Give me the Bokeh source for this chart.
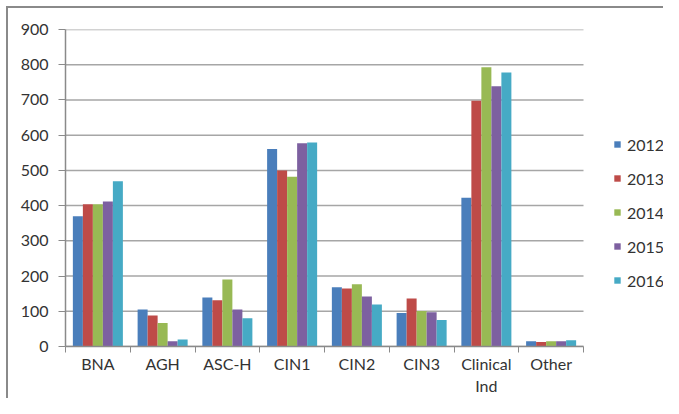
from bokeh.plotting import figure
from bokeh.models import (Range1d, FixedTicker, LinearAxis, Legend, LegendItem,
                          ColumnDataSource)
from bokeh.embed import file_html
from bokeh.resources import INLINE

categories = ["BNA", "AGH", "ASC-H", "CIN1", "CIN2", "CIN3", "Clinical Ind", "Other"]
tick_labels = ["BNA", "AGH", "ASC-H", "CIN1", "CIN2", "CIN3", "Clinical\nInd", "Other"]
years = ["2012", "2013", "2014", "2015", "2016"]
y2012 = [370, 105, 139, 561, 168, 95, 422, 15]
y2013 = [404, 88, 131, 500, 165, 136, 698, 13]
y2014 = [404, 67, 190, 482, 177, 101, 793, 15]
y2015 = [412, 15, 105, 577, 142, 97, 739, 15]
y2016 = [469, 20, 80, 579, 119, 75, 778, 18]
y_ticks = [0, 100, 200, 300, 400, 500, 600, 700, 800, 900]

series = [y2012, y2013, y2014, y2015, y2016]
colors = ["#4a7ebb", "#be4b48", "#98b954", "#7d60a0", "#46aac5"]

FONT = "Lato"
TXT = "#333333"
AX = "#8a8a8a"

n = len(categories)
W, H = 663, 398
LEFT, TOP, BOTTOM = 65, 29, 52
CAT_PX = 64.75  # pixel width of one category slot
x_end = (W - LEFT) / CAT_PX

p = figure(width=W, height=H, output_backend="svg", toolbar_location=None,
           x_range=Range1d(0, x_end), y_range=Range1d(0, 900),
           x_axis_location=None, y_axis_location=None,
           min_border_left=LEFT, min_border_right=0, min_border_top=TOP,
           min_border_bottom=BOTTOM)
p.outline_line_color = None
p.background_fill_color = "white"
p.border_fill_alpha = 0
for g in list(p.grid):
    g.visible = False
p.styles = {
    "background": "linear-gradient(#8a8a8a,#8a8a8a) 6px 6px / 100% 2px no-repeat, "
                  "linear-gradient(#8a8a8a,#8a8a8a) 6px 6px / 2px 100% no-repeat, white",
}

# horizontal gridlines across the category area only
p.segment(x0=[0] * len(y_ticks), x1=[n] * len(y_ticks), y0=y_ticks, y1=y_ticks,
          line_color="#a6a6a6", line_width=1.5)

# y axis
yax = LinearAxis(ticker=FixedTicker(ticks=y_ticks))
yax.axis_line_color = AX
yax.axis_line_width = 1.5
yax.major_tick_line_color = AX
yax.major_tick_out = 7
yax.major_tick_in = 0
yax.minor_tick_line_color = None
yax.major_label_standoff = 10
yax.major_label_text_font = FONT
yax.major_label_text_font_size = "16px"
yax.major_label_text_color = TXT
p.add_layout(yax, "left")

# x axis: labels at category centres, tick marks (minor) at category boundaries
xax = LinearAxis(ticker=FixedTicker(ticks=[i + 0.5 for i in range(n)],
                                    minor_ticks=list(range(n + 1))),
                 major_label_overrides={i + 0.5: tick_labels[i] for i in range(n)},
                 bounds=(0, n))
xax.axis_line_color = AX
xax.axis_line_width = 1.5
xax.major_tick_line_color = None
xax.major_tick_out = 0
xax.major_tick_in = 0
xax.minor_tick_line_color = AX
xax.minor_tick_line_width = 1
xax.minor_tick_out = 6
xax.minor_tick_in = 0
xax.major_label_standoff = 1
xax.major_label_text_font = FONT
xax.major_label_text_font_size = "16px"
xax.major_label_text_color = TXT
p.add_layout(xax, "below")

bw = 0.1545
items = []
for k, (yr, vals, c) in enumerate(zip(years, series, colors)):
    off = (k - 2) * bw
    src = ColumnDataSource(dict(x=[i + 0.5 + off for i in range(n)], top=vals))
    r = p.vbar(x="x", top="top", width=bw, bottom=0, source=src, fill_color=c, line_color=None)
    items.append(LegendItem(label=yr, renderers=[r]))

legend = Legend(items=items, location=(548, 56))
legend.border_line_color = None
legend.background_fill_alpha = 0
legend.padding = 0
legend.margin = 0
legend.spacing = 14
legend.label_height = 20
legend.glyph_height = 8
legend.glyph_width = 8
legend.label_standoff = 6
legend.label_text_font = FONT
legend.label_text_font_size = "16px"
legend.label_text_color = TXT
p.add_layout(legend)

open("out.html", "w").write(file_html(p, INLINE))
